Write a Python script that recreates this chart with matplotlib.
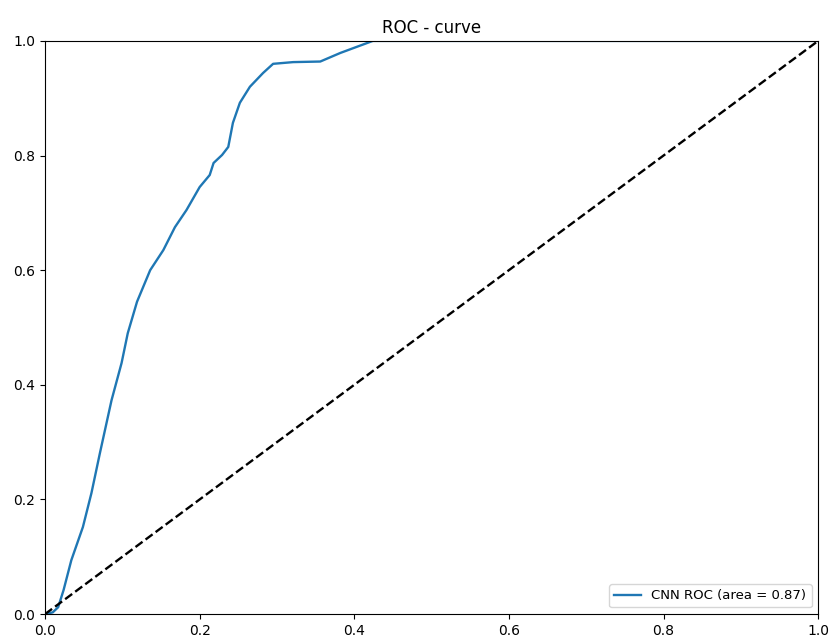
import matplotlib
matplotlib.use("Agg")
import matplotlib.pyplot as plt

fpr = [0.0, 0.010, 0.017, 0.024, 0.034, 0.049, 0.060, 0.071, 0.086, 0.099, 0.107,
       0.119, 0.136, 0.153, 0.168, 0.183, 0.200, 0.213, 0.218, 0.229, 0.237, 0.243,
       0.252, 0.265, 0.282, 0.295, 0.321, 0.356, 0.382, 0.424, 1.0]
tpr = [0.0, 0.003, 0.012, 0.042, 0.094, 0.152, 0.211, 0.281, 0.373, 0.438, 0.490,
       0.545, 0.600, 0.635, 0.675, 0.705, 0.745, 0.766, 0.787, 0.801, 0.815, 0.857,
       0.892, 0.920, 0.944, 0.960, 0.963, 0.964, 0.979, 1.0, 1.0]
roc_auc = 0.87

fig = plt.figure(figsize=(8.34, 6.39), dpi=100)
ax = fig.add_axes([0.054, 0.039, 0.927, 0.897])
ax.plot(fpr, tpr, color="#1f77b4", lw=1.7, label="CNN ROC (area = %0.2f)" % roc_auc)
ax.plot([0, 1], [0, 1], "k--", lw=1.7)
ax.set_xlim(0, 1)
ax.set_ylim(0, 1)
ax.set_title("ROC - curve", fontsize=12)
ax.tick_params(labelsize=10)
ax.legend(loc="lower right", fontsize=9.5)
fig.savefig("out.png", dpi=100)
